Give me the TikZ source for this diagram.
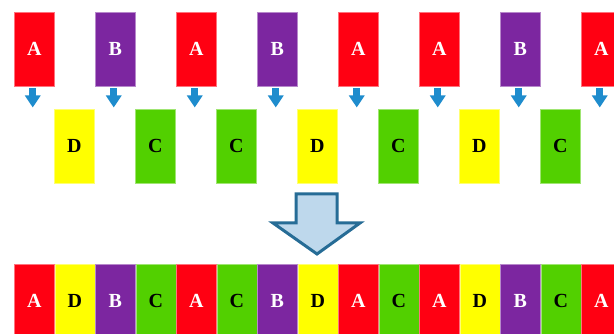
\documentclass[tikz,border=0pt]{standalone}
\usepackage{fontspec}
\setmainfont{Liberation Serif}
\usetikzlibrary{arrows.meta}
\definecolor{cred}{RGB}{255,0,18}
\definecolor{cpur}{RGB}{124,38,160}
\definecolor{cyel}{RGB}{255,255,0}
\definecolor{cgrn}{RGB}{82,208,0}
\definecolor{carr}{RGB}{30,140,205}
\definecolor{bigfill}{RGB}{190,216,236}
\definecolor{bigline}{RGB}{38,108,150}
\tikzset{
  tile/.style={minimum width=40pt, minimum height=74pt, inner sep=0pt, line width=0.5pt,
    font=\fontsize{20}{20}\selectfont\bfseries, anchor=north west},
  tA/.style={tile, fill=cred, draw=cred!55!white, text=white},
  tB/.style={tile, fill=cpur, draw=cpur!55!white, text=white},
  tC/.style={tile, fill=cgrn, draw=cgrn!55!white, text=black},
  tD/.style={tile, fill=cyel, draw=cyel!55!white, text=black},
  smallarr/.style={draw=carr, line width=7pt, -{Triangle[width=15pt,length=12pt]}},
  bigarr/.style={fill=bigfill, draw=bigline, line width=3pt, line join=miter}
}
\begin{document}
\begin{tikzpicture}[x=1pt,y=-1pt]
\useasboundingbox (0,0) rectangle (614,334);
\fill[white] (0,0) rectangle (614,334);
% top row
\node[tA] (t0) at (14,12) {A};
\node[tB] (t1) at (95,12) {B};
\node[tA] (t2) at (176,12) {A};
\node[tB] (t3) at (257,12) {B};
\node[tA] (t4) at (338,12) {A};
\node[tA] (t5) at (419,12) {A};
\node[tB] (t6) at (500,12) {B};
\node[tA] (t7) at (581,12) {A};
% small arrows
\foreach \i in {0,...,7}{
  \coordinate (s\i) at ([shift={(-1.5,2)}]t\i.south);
  \coordinate (e\i) at ([shift={(-1.5,21)}]t\i.south);
  \draw[smallarr] (s\i) -- (e\i);
}
% middle row
\node[tD] (m0) at (54,109) {D};
\node[tC] (m1) at (135,109) {C};
\node[tC] (m2) at (216,109) {C};
\node[tD] (m3) at (297,109) {D};
\node[tC] (m4) at (378,109) {C};
\node[tD] (m5) at (459,109) {D};
\node[tC] (m6) at (540,109) {C};
% big arrow
\draw[bigarr] (296,194) -- (337,194) -- (337,223) -- (360,223) -- (317,254) -- (273,223) -- (296,223) -- cycle;
% bottom row
\node[tA] (b0) at (14,264) {A};
\node[tD] (b1) at (54.5,264) {D};
\node[tB] (b2) at (95,264) {B};
\node[tC] (b3) at (135.5,264) {C};
\node[tA] (b4) at (176,264) {A};
\node[tC] (b5) at (216.5,264) {C};
\node[tB] (b6) at (257,264) {B};
\node[tD] (b7) at (297.5,264) {D};
\node[tA] (b8) at (338,264) {A};
\node[tC] (b9) at (378.5,264) {C};
\node[tA] (b10) at (419,264) {A};
\node[tD] (b11) at (459.5,264) {D};
\node[tB] (b12) at (500,264) {B};
\node[tC] (b13) at (540.5,264) {C};
\node[tA] (b14) at (581,264) {A};
\end{tikzpicture}
\end{document}
